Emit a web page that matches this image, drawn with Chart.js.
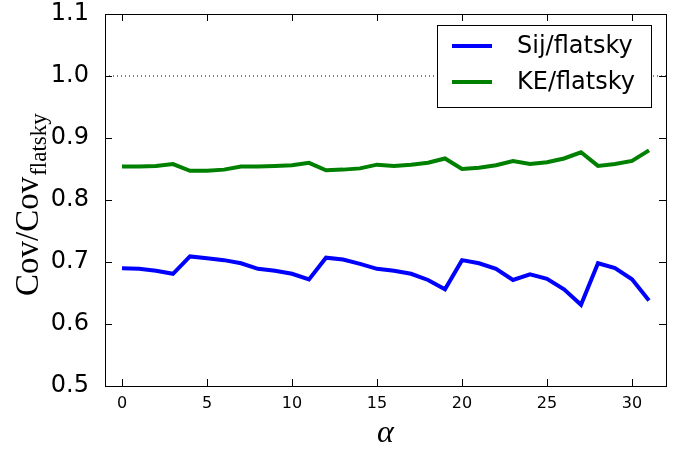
<!DOCTYPE html>
<html>
<head>
<meta charset="utf-8">
<script src="https://cdn.jsdelivr.net/npm/chart.js@4"></script>
<style>
  body { margin: 0; background: #fff; }
  #wrap { width: 684px; height: 450px; }
</style>
</head>
<body>
<div id="wrap"><canvas id="covChart" width="684" height="450"></canvas></div>
<script>
    // alpha index 0..31
    const alpha = [0,1,2,3,4,5,6,7,8,9,10,11,12,13,14,15,16,17,18,19,20,21,22,23,24,25,26,27,28,29,30,31];
    const sijFlat = [0.690,0.689,0.686,0.681,0.709,0.706,0.703,0.698,0.689,0.686,0.681,0.672,
                     0.707,0.704,0.697,0.689,0.686,0.681,0.671,0.656,0.703,0.698,0.689,0.671,
                     0.680,0.673,0.656,0.631,0.698,0.690,0.672,0.638];
    const keFlat = [0.854,0.854,0.855,0.858,0.847,0.847,0.849,0.854,0.854,0.855,0.856,0.860,
                    0.848,0.849,0.851,0.857,0.855,0.857,0.860,0.867,0.850,0.852,0.856,0.863,
                    0.858,0.861,0.867,0.877,0.855,0.858,0.863,0.880];
    const xTicks = [0,5,10,15,20,25,30];
    const yTicks = [0.5,0.6,0.7,0.8,0.9,1.0,1.1];
    const refLevel = 1.0;
    const xRange = [-1, 32];

    const toPts = (ys) => ys.map((v, i) => ({x: alpha[i], y: v}));

    // 框線 + 內向刻度 + 圖例 + 軸標題
    const decor = {
        id: 'decor',
        afterDraw(chart) {
            const ctx = chart.ctx;
            const a = chart.chartArea;
            const sx = chart.scales.x, sy = chart.scales.y;
            ctx.save();
            ctx.strokeStyle = '#000';
            ctx.lineWidth = 1;
            ctx.beginPath();
            xTicks.forEach(t => {
                const px = Math.round(sx.getPixelForValue(t)) + 0.5;
                ctx.moveTo(px, a.bottom); ctx.lineTo(px, a.bottom - 7);
                ctx.moveTo(px, a.top); ctx.lineTo(px, a.top + 7);
            });
            yTicks.forEach(t => {
                const py = Math.round(sy.getPixelForValue(t)) + 0.5;
                ctx.moveTo(a.left, py); ctx.lineTo(a.left + 7, py);
                ctx.moveTo(a.right, py); ctx.lineTo(a.right - 7, py);
            });
            ctx.stroke();
            ctx.strokeRect(Math.round(a.left) + 0.5, Math.round(a.top) + 0.5,
                           Math.round(a.right - a.left), Math.round(a.bottom - a.top));

            // legend
            const lx = 437, ly = 25, lw = 214, lh = 82;
            ctx.fillStyle = '#fff';
            ctx.fillRect(lx, ly, lw, lh);
            ctx.strokeRect(lx + 0.5, ly + 0.5, lw, lh);
            const items = chart.data.datasets.filter(d => d.label);
            items.forEach((d, i) => {
                const y = ly + 21 + i * 36;
                ctx.strokeStyle = d.borderColor;
                ctx.lineWidth = 4;
                ctx.beginPath();
                ctx.moveTo(lx + 15, y); ctx.lineTo(lx + 55, y);
                ctx.stroke();
                ctx.fillStyle = '#000';
                ctx.font = '24px "DejaVu Sans"';
                ctx.textBaseline = 'middle';
                ctx.textAlign = 'left';
                ctx.fillText(d.label, lx + 80, y + 1);
            });

            // y title: Cov/Cov_flatsky
            ctx.fillStyle = '#000';
            ctx.translate(38, 296);
            ctx.rotate(-Math.PI / 2);
            ctx.textBaseline = 'alphabetic';
            ctx.textAlign = 'left';
            ctx.font = '33px "Liberation Serif"';
            const main = 'Cov/Cov';
            ctx.fillText(main, 0, 0);
            const w = ctx.measureText(main).width;
            ctx.font = '23px "Liberation Serif"';
            ctx.fillText('flatsky', w + 1, 8);
            ctx.restore();

            // x title
            ctx.save();
            ctx.fillStyle = '#000';
            ctx.font = 'italic 32px "Liberation Serif"';
            ctx.textAlign = 'center';
            ctx.textBaseline = 'alphabetic';
            ctx.fillText('α', sx.getPixelForValue(15.5), 442);
            ctx.restore();
        }
    };

    const ctx = document.getElementById('covChart').getContext('2d');
    const myChart = new Chart(ctx, {
        type: 'line',
        data: {
            datasets: [
                {
                    data: xRange.map(x => ({x: x, y: refLevel})),
                    borderColor: '#000',
                    borderWidth: 1,
                    borderDash: [1, 3],
                    pointRadius: 0
                },
                {
                    label: 'Sij/flatsky',
                    data: toPts(sijFlat),
                    borderColor: '#0000ff',
                    borderWidth: 4,
                    pointRadius: 0,
                    tension: 0
                },
                {
                    label: 'KE/flatsky',
                    data: toPts(keFlat),
                    borderColor: '#008000',
                    borderWidth: 4,
                    pointRadius: 0,
                    tension: 0
                }
            ]
        },
        options: {
            responsive: false,
            animation: false,
            devicePixelRatio: 1,
            layout: { padding: { top: 14, right: 18, left: 0, bottom: 0 } },
            plugins: { legend: { display: false }, tooltip: { enabled: false } },
            scales: {
                x: {
                    type: 'linear',
                    min: xRange[0], max: xRange[1],
                    grid: { display: false },
                    border: { display: false },
                    afterBuildTicks: s => { s.ticks = xTicks.map(v => ({value: v})); },
                    afterFit: s => { s.height = 64; s.paddingLeft = 0; s.paddingRight = 0; },
                    ticks: {
                        color: '#000',
                        font: { family: 'DejaVu Sans', size: 16 },
                        padding: 0,
                        maxRotation: 0
                    }
                },
                y: {
                    min: yTicks[0], max: yTicks[yTicks.length - 1],
                    grid: { display: false },
                    border: { display: false },
                    afterBuildTicks: s => { s.ticks = yTicks.map(v => ({value: v})); },
                    afterFit: s => { s.width = 105; s.paddingTop = 0; s.paddingBottom = 0; },
                    ticks: {
                        color: '#000',
                        font: { family: 'DejaVu Sans', size: 24 },
                        padding: 8,
                        callback: v => v.toFixed(1)
                    }
                }
            }
        },
        plugins: [decor]
    });
</script>
</body>
</html>
